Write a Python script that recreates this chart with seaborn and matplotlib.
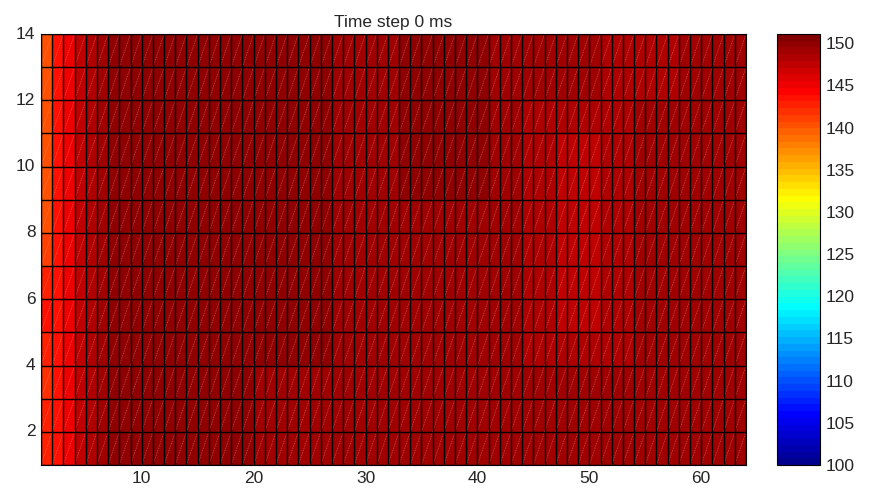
import numpy as np
import pandas as pd
import seaborn as sns
import matplotlib.pyplot as plt
from matplotlib.colors import ListedColormap
from matplotlib.collections import LineCollection

# cell values, x = 1..63 (left edge of each cell)
col_base = [140.3, 143.5, 145.5, 147.5, 148.3, 149.1, 149.9, 149.9, 149.9, 149.9,
            149.9, 149.9, 149.9, 149.9, 149.9, 149.9, 149.9, 149.9, 149.9, 149.9,
            149.9, 149.9, 149.9, 149.9, 149.9, 149.9, 149.5, 149.5, 149.5, 149.5,
            149.5, 149.5, 149.5, 149.5, 149.5, 149.5, 149.5, 149.5, 149.5, 149.5,
            149.5, 149.1, 149.1, 149.1, 149.1, 149.1, 149.1, 149.1, 149.1, 149.1,
            149.1, 149.1, 149.1, 149.1, 149.1, 149.1, 149.1, 149.1, 149.1, 149.1,
            149.1, 149.1, 149.1]

# first column, y = 1..13 (bottom to top)
first_col = [142.7, 142.7, 141.9, 142.7, 143.5, 142.7, 141.1,
             140.3, 140.3, 140.3, 140.3, 140.3, 140.3]

# patches: x from, x to, y from, y to, value
patches = [
    (44, 54, 4, 12, 148.3),
    (47, 51, 5, 11, 147.5),
    (51, 58, 12, 14, 148.3),
    (33, 41, 9, 14, 149.9),
    (20, 33, 1, 4, 149.5),
]

x_ticks = [10, 20, 30, 40, 50, 60]
y_ticks = [2, 4, 6, 8, 10, 12, 14]
cbar_ticks = list(range(100, 151, 5))

n_rows, n_cols = len(first_col), len(col_base)
Z = np.tile(np.array(col_base), (n_rows, 1))
Z[:, 0] = first_col
for x0, x1, y0, y1, v in patches:
    Z[y0 - 1:y1 - 1, x0 - 1:x1 - 1] = v
df = pd.DataFrame(Z, index=range(1, n_rows + 1), columns=range(1, n_cols + 1))


# MATLAB style jet(64)
def matlab_jet(m=64):
    n = int(np.ceil(m / 4))
    u = np.concatenate([np.arange(1, n + 1) / n, np.ones(n - 1), np.arange(n, 0, -1) / n])
    g = int(np.ceil(n / 2)) - (1 if m % 4 == 1 else 0) + np.arange(1, len(u) + 1)
    r = g + n
    b = g - n
    J = np.zeros((m, 3))
    for col, idx in ((0, r), (1, g), (2, b)):
        ok = (idx >= 1) & (idx <= m)
        J[idx[ok] - 1, col] = u[ok]
    return ListedColormap(J)


sns.set_style('white')
plt.rcParams['font.family'] = ['Liberation Sans', 'DejaVu Sans']

fig = plt.figure(figsize=(8.72, 4.90), dpi=100)
ax = fig.add_axes([0.047, 0.051, 0.8085, 0.8796])
cax = fig.add_axes([0.891, 0.051, 0.049, 0.8796])

sns.heatmap(df, ax=ax, cbar_ax=cax, cmap=matlab_jet(64), vmin=100, vmax=151.1,
            linewidths=0, cbar_kws={'ticks': cbar_ticks})
ax.invert_yaxis()

# triangle diagonals
segs = [[(j, i), (j + 1, i + 1)] for i in range(n_rows) for j in range(n_cols)]
ax.add_collection(LineCollection(segs, colors='#ffa0a0', linewidths=0.5,
                                 alpha=0.5, linestyles=(0, (2, 1.5))))

# cell borders
ax.vlines(range(n_cols + 1), 0, n_rows, colors='black', linewidth=1.0)
ax.hlines(range(n_rows + 1), 0, n_cols, colors='black', linewidth=1.0)

ax.set_xticks([v - 1 for v in x_ticks])
ax.set_xticklabels([str(v) for v in x_ticks], rotation=0)
ax.set_yticks([v - 1 for v in y_ticks])
ax.set_yticklabels([str(v) for v in y_ticks], rotation=0)
ax.set_xlabel('')
ax.set_ylabel('')
ax.tick_params(direction='in', length=5, labelsize=12.5, pad=4)
for s in ax.spines.values():
    s.set_visible(True)
    s.set_color('black')
    s.set_linewidth(0.8)
ax.set_title('Time step 0 ms', fontsize=12.5, pad=5)

cb = ax.collections[0].colorbar
cb.outline.set_linewidth(0.8)
cb.outline.set_edgecolor('black')
cax.tick_params(direction='in', length=5, left=True, right=True,
                labelleft=False, labelright=True, labelsize=12.5, pad=4)

fig.savefig('out.png', dpi=100)
